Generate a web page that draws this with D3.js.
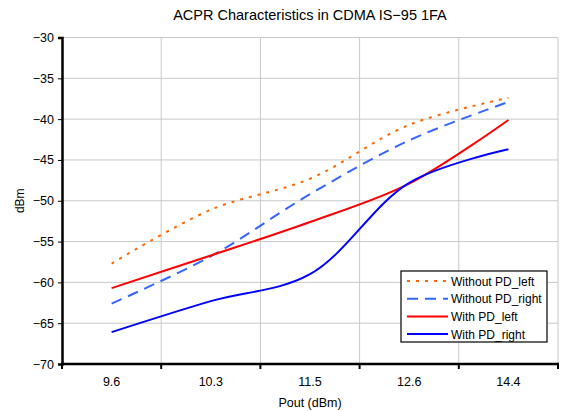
<!DOCTYPE html>
<html>
<head>
<meta charset="utf-8">
<script src="https://cdn.jsdelivr.net/npm/d3@7"></script>
<style>
  body { margin: 0; background: #fff; }
  text { font-family: "Liberation Sans", Arial, sans-serif; fill: #000; }
</style>
</head>
<body>
<div id="chart-area"></div>
<script>
const width = 562;
const height = 411;
const margin = {left: 62, right: 4, top: 37.5, bottom: 47};

// data
const categories = ["9.6", "10.3", "11.5", "12.6", "14.4"];
const withoutLeft = [-57.7, -51.1, -47.3, -40.7, -37.4];
const withoutRight = [-62.6, -56.8, -49.2, -42.6, -37.9];
const withLeft = [-60.7, -56.7, -52.6, -47.9, -40.1];
const withRight = [-66.1, -62.3, -59.0, -47.8, -43.7];
const yTicks = [-70, -65, -60, -55, -50, -45, -40, -35, -30];

const series = [
    {name: "Without PD_left", values: withoutLeft, color: "#ff6600", dash: "3,6"},
    {name: "Without PD_right", values: withoutRight, color: "#3366ff", dash: "11,7"},
    {name: "With PD_left", values: withLeft, color: "#ff0000", dash: null},
    {name: "With PD_right", values: withRight, color: "#0000ff", dash: null}
];

const innerW = width - margin.left - margin.right;
const innerH = height - margin.top - margin.bottom;

const svg = d3.select("#chart-area")
    .append("svg")
    .attr("width", width)
    .attr("height", height);

const g = svg.append("g")
    .attr("transform", "translate(" + margin.left + "," + margin.top + ")");

// scales
const x = d3.scaleBand()
    .domain(categories)
    .range([0, innerW])
    .padding(0);

const y = d3.scaleLinear()
    .domain([-70, -30])
    .range([innerH, 0]);

// grid lines
g.selectAll(".hgrid")
    .data(yTicks.slice(1))
    .enter().append("line")
    .attr("x1", 0)
    .attr("x2", innerW)
    .attr("y1", d => y(d))
    .attr("y2", d => y(d))
    .attr("stroke", "#c8c8c8")
    .attr("stroke-width", 1);

const bounds = categories.slice(1).map(c => x(c)).concat([innerW]);
g.selectAll(".vgrid")
    .data(bounds)
    .enter().append("line")
    .attr("x1", d => d)
    .attr("x2", d => d)
    .attr("y1", 0)
    .attr("y2", innerH)
    .attr("stroke", "#c8c8c8")
    .attr("stroke-width", 1);

// lines
const line = d3.line()
    .x((d, i) => x(categories[i]) + x.bandwidth() / 2)
    .y(d => y(d))
    .curve(d3.curveCatmullRom.alpha(0.5));

g.selectAll(".series")
    .data(series)
    .enter().append("path")
    .attr("d", d => line(d.values))
    .attr("fill", "none")
    .attr("stroke", d => d.color)
    .attr("stroke-width", 2)
    .attr("stroke-dasharray", d => d.dash);

// y axis
const leftAxis = d3.axisLeft(y)
    .tickValues(yTicks)
    .tickSize(4)
    .tickPadding(4)
    .tickFormat(d3.format("d"));

const yAxisGroup = g.append("g").call(leftAxis);
yAxisGroup.select(".domain").attr("stroke-width", 2.5);
yAxisGroup.selectAll("text").attr("font-size", "12.5px");

// x axis: labels centred in bands, ticks on the boundaries
const bottomAxis = d3.axisBottom(x)
    .tickSize(0)
    .tickPadding(13);

const xAxisGroup = g.append("g")
    .attr("transform", "translate(0," + innerH + ")")
    .call(bottomAxis);
xAxisGroup.select(".domain").remove();
xAxisGroup.selectAll("text").attr("font-size", "12.5px");

xAxisGroup.selectAll(".bound")
    .data([0].concat(bounds))
    .enter().append("line")
    .attr("x1", d => d)
    .attr("x2", d => d)
    .attr("y1", 0)
    .attr("y2", 5)
    .attr("stroke", "#000")
    .attr("stroke-width", 2);

xAxisGroup.append("line")
    .attr("x1", -1)
    .attr("x2", innerW + 1)
    .attr("stroke", "#000")
    .attr("stroke-width", 2.5);

// titles
svg.append("text")
    .attr("x", margin.left + innerW / 2)
    .attr("y", 20)
    .attr("text-anchor", "middle")
    .attr("font-size", "14.5px")
    .text("ACPR Characteristics in CDMA IS\u221295  1FA");

svg.append("text")
    .attr("x", margin.left + innerW / 2)
    .attr("y", 407)
    .attr("text-anchor", "middle")
    .attr("font-size", "12.5px")
    .text("Pout (dBm)");

svg.append("text")
    .attr("transform", "translate(24," + (margin.top + innerH / 2) + ") rotate(-90)")
    .attr("text-anchor", "middle")
    .attr("font-size", "12px")
    .text("dBm");

// legend
const legend = svg.append("g")
    .attr("transform", "translate(401,271)");

legend.append("rect")
    .attr("width", 146)
    .attr("height", 71)
    .attr("fill", "#fff")
    .attr("stroke", "#000")
    .attr("stroke-width", 1.2);

const items = legend.selectAll(".item")
    .data(series)
    .enter().append("g")
    .attr("transform", (d, i) => "translate(0," + (10 + i * 17.7) + ")");

items.append("line")
    .attr("x1", 6)
    .attr("x2", 47)
    .attr("stroke", d => d.color)
    .attr("stroke-width", 2)
    .attr("stroke-dasharray", d => d.dash);

items.append("text")
    .attr("x", 50)
    .attr("y", 4.5)
    .attr("font-size", "12px")
    .text(d => d.name);
</script>
</body>
</html>
